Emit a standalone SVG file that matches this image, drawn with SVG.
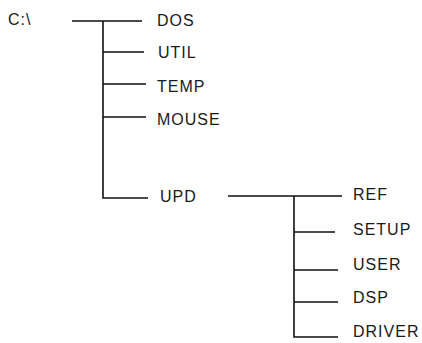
<svg xmlns="http://www.w3.org/2000/svg" width="422" height="343" viewBox="0 0 422 343">
<style>
.t{font-family:"Liberation Sans",Arial,sans-serif;font-size:16px;fill:#1a1a1a;letter-spacing:1px}
.c{stroke:#111;stroke-width:1.6;fill:none}
</style>
<rect width="422" height="343" fill="#fff"/>
<g id="connectors">
<path class="c" d="M72 21H142M103 21V198H148M103 52H144M103 84H146M103 117H146"/>
<path class="c" d="M228 196H342M294 196V337H338M294 232H335M294 270H338M294 302H338"/>
</g>
<g id="root"><text class="t" x="8" y="25">C:\</text></g>
<g id="dos"><text class="t" x="157" y="26">DOS</text></g>
<g id="util"><text class="t" x="158" y="58">UTIL</text></g>
<g id="temp"><text class="t" x="157" y="92">TEMP</text></g>
<g id="mouse"><text class="t" x="157" y="125">MOUSE</text></g>
<g id="upd"><text class="t" x="160" y="202">UPD</text></g>
<g id="ref"><text class="t" x="353" y="200">REF</text></g>
<g id="setup"><text class="t" x="353" y="235">SETUP</text></g>
<g id="user"><text class="t" x="353" y="270">USER</text></g>
<g id="dsp"><text class="t" x="353" y="303">DSP</text></g>
<g id="driver"><text class="t" x="353" y="337">DRIVER</text></g>
</svg>
